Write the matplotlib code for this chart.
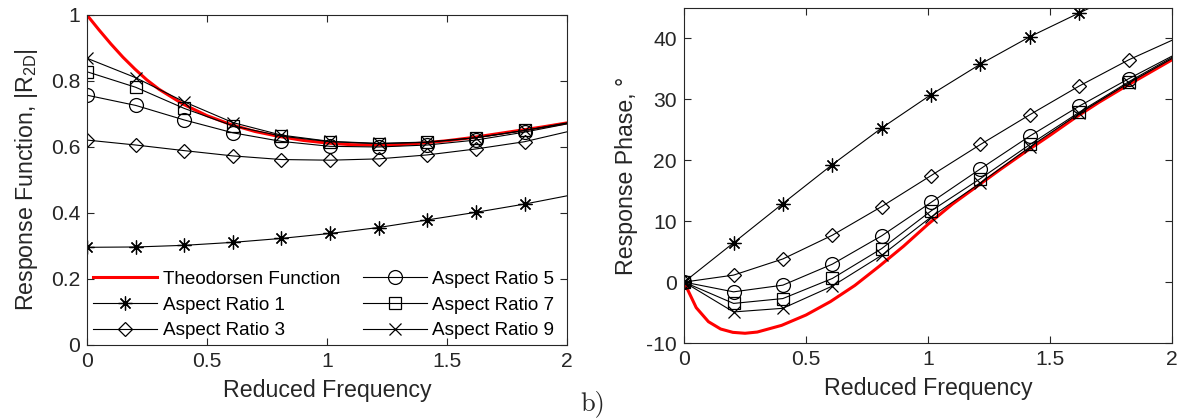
import numpy as np
import matplotlib
matplotlib.use('Agg')
import matplotlib.pyplot as plt
from matplotlib.ticker import FuncFormatter

# 折减频率 (标记点位置)
k_pts = [0, 0.203, 0.405, 0.608, 0.81, 1.013, 1.215, 1.418, 1.62, 1.823, 2.0]

# Theodorsen 函数曲线
theo_k = [0, 0.05, 0.1, 0.15, 0.2, 0.25, 0.3, 0.4, 0.5, 0.6, 0.7, 0.8, 0.9,
          1.0, 1.1, 1.2, 1.3, 1.4, 1.5, 1.6, 1.7, 1.8, 1.9, 2.0]
theo_mag = [1.0, 0.955, 0.912, 0.872, 0.836, 0.803, 0.775, 0.73, 0.695, 0.668,
            0.647, 0.632, 0.620, 0.612, 0.607, 0.606, 0.607, 0.612, 0.619,
            0.628, 0.639, 0.650, 0.661, 0.673]
theo_phase = [0, -4.2, -6.5, -7.7, -8.25, -8.4, -8.2, -7.1, -5.4, -3.2, -0.55,
              2.6, 5.9, 9.5, 12.8, 15.7, 18.6, 21.4, 24.1, 26.9, 29.5, 31.9,
              34.2, 36.5]

# 各展弦比幅值
mag_ar1 = [0.296, 0.297, 0.302, 0.311, 0.323, 0.338, 0.356, 0.379, 0.402, 0.427, 0.452]
mag_ar3 = [0.621, 0.606, 0.589, 0.573, 0.562, 0.560, 0.564, 0.576, 0.594, 0.616, 0.646]
mag_ar5 = [0.757, 0.726, 0.682, 0.643, 0.617, 0.602, 0.600, 0.606, 0.621, 0.645, 0.670]
mag_ar7 = [0.828, 0.781, 0.717, 0.664, 0.633, 0.616, 0.610, 0.614, 0.628, 0.650, 0.672]
mag_ar9 = [0.869, 0.810, 0.737, 0.674, 0.636, 0.617, 0.611, 0.615, 0.628, 0.650, 0.673]

# 各展弦比相位 (度)
ph_ar1 = [0, 6.45, 12.9, 19.3, 25.3, 30.8, 35.8, 40.3, 44.2, 48.0, 51.3]
ph_ar3 = [0, 1.15, 3.8, 7.7, 12.4, 17.5, 22.6, 27.5, 32.2, 36.5, 39.7]
ph_ar5 = [0, -1.6, -0.5, 2.95, 7.6, 13.1, 18.6, 24.0, 28.9, 33.4, 37.1]
ph_ar7 = [0, -3.5, -2.7, 0.6, 5.5, 11.7, 17.0, 22.6, 27.9, 32.9, 36.9]
ph_ar9 = [0, -4.9, -4.3, -0.65, 4.4, 10.7, 16.3, 22.2, 27.7, 32.7, 36.7]

labels = ['Theodorsen Function', 'Aspect Ratio 1', 'Aspect Ratio 3',
          'Aspect Ratio 5', 'Aspect Ratio 7', 'Aspect Ratio 9']

plt.rcParams['font.family'] = ['Liberation Sans', 'DejaVu Sans']
plt.rcParams['mathtext.default'] = 'regular'

fig = plt.figure(figsize=(11.8, 4.2), dpi=100)
ax1 = fig.add_axes([0.0737, 0.1786, 0.4068, 0.7857])
ax2 = fig.add_axes([0.5797, 0.1833, 0.4135, 0.7976])

styles = [
    dict(marker=(8, 2, 0), ms=10),
    dict(marker='D', ms=7.5),
    dict(marker='o', ms=10),
    dict(marker='s', ms=8),
    dict(marker='x', ms=9),
]
mags = [mag_ar1, mag_ar3, mag_ar5, mag_ar7, mag_ar9]
phases = [ph_ar1, ph_ar3, ph_ar5, ph_ar7, ph_ar9]

def fmt(v, pos):
    return '%g' % v

for ax, theo, series in [(ax1, theo_mag, mags), (ax2, theo_phase, phases)]:
    ax.plot(theo_k, theo, color='red', lw=2.2, label=labels[0])
    for i, ys in enumerate(series):
        ax.plot(k_pts, ys, color='black', lw=0.8, mfc='none', mec='black',
                mew=0.9, markevery=slice(0, 10), label=labels[i + 1],
                **styles[i])
    ax.set_xlim(0, 2)
    ax.set_xticks([0, 0.5, 1, 1.5, 2])
    ax.xaxis.set_major_formatter(FuncFormatter(fmt))
    ax.yaxis.set_major_formatter(FuncFormatter(fmt))
    ax.tick_params(direction='in', top=True, right=True, length=5,
                   labelsize=15.2, colors='#262626', labelcolor='#262626', pad=5)
    for s in ax.spines.values():
        s.set_color('#262626')
        s.set_linewidth(0.8)
    ax.set_xlabel('Reduced Frequency', fontsize=16.7, color='#262626', labelpad=6)

ax1.set_ylim(0, 1)
ax1.set_yticks([0, 0.2, 0.4, 0.6, 0.8, 1])
ax1.set_ylabel('Response Function, |R$_{2D}$|', fontsize=16.7, color='#262626',
               labelpad=8)
ax2.set_ylim(-10, 45)
ax2.set_yticks([-10, 0, 10, 20, 30, 40])
ax2.set_ylabel('Response Phase, °', fontsize=16.7, color='#262626', labelpad=6)

ax1.legend(ncol=2, loc='lower left', bbox_to_anchor=(0.0, 0.0), frameon=False,
           fontsize=13.6, handlelength=3.4, handletextpad=0.3,
           columnspacing=1.2, labelspacing=0.45, borderaxespad=0.1,
           borderpad=0.2)

fig.text(0.502, 0.04, 'b)', family='cmr10', fontsize=19, color='#262626',
         ha='center', va='center')

fig.savefig('out.png', dpi=100)
